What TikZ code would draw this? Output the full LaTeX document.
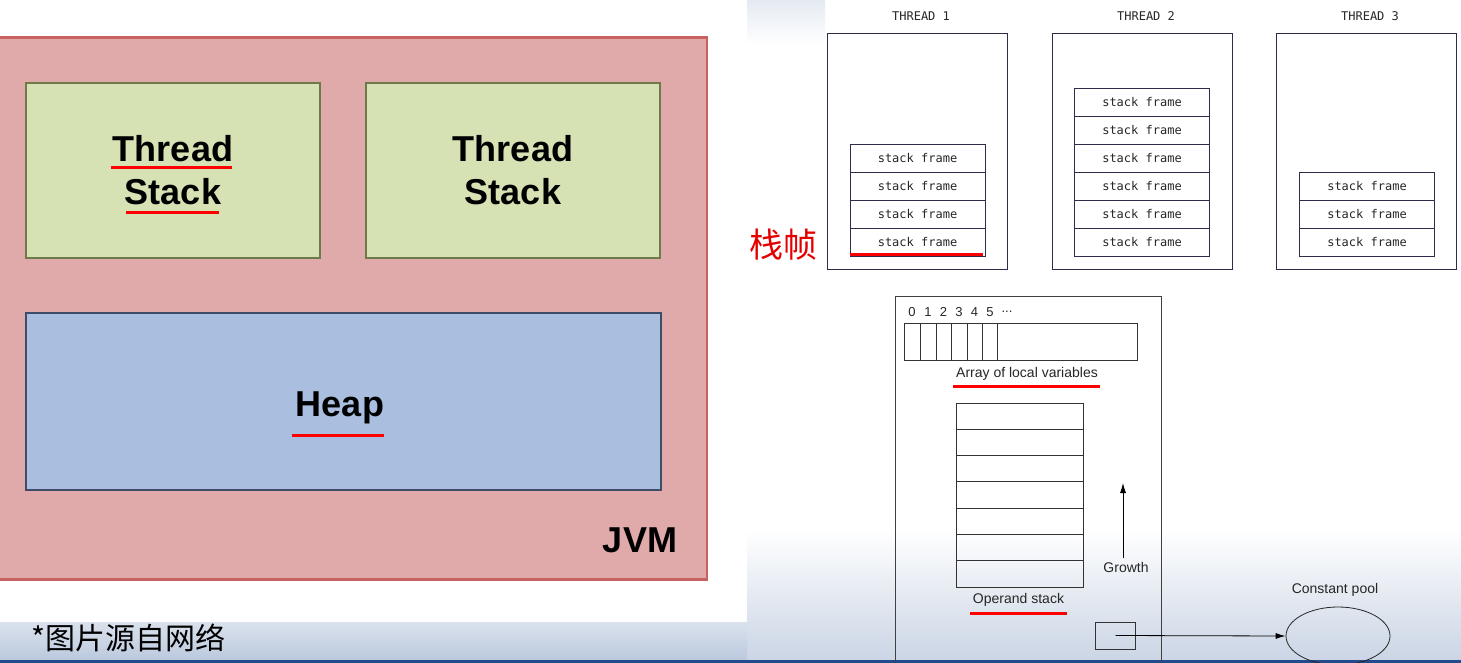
\documentclass[tikz,border=0pt]{standalone}
\usepackage{fontspec}
\setmainfont{Liberation Sans}
\setmonofont{DejaVu Sans Mono}
\newfontfamily\cjk{Noto Sans CJK SC}
\usetikzlibrary{positioning,shapes.geometric,arrows.meta}
\definecolor{jvmfill}{HTML}{E0AAAA}
\definecolor{jvmline}{HTML}{C86262}
\definecolor{tsfill}{HTML}{D6E1B4}
\definecolor{tsline}{HTML}{6F7A4A}
\definecolor{heapfill}{HTML}{AABFDF}
\definecolor{heapline}{HTML}{3E4C68}
\definecolor{frmline}{HTML}{2C2C4C}
\definecolor{band}{HTML}{B4C3DA}
\definecolor{edge}{HTML}{234A8C}
\begin{document}
\begin{tikzpicture}[x=1pt, y=-1pt,
  jvm/.style = {draw=jvmline, fill=jvmfill, line width=2.5pt, minimum width=708pt, minimum height=542pt},
  tstack/.style = {draw=tsline, fill=tsfill, line width=2.5pt, minimum width=294pt, minimum height=175pt, align=center, font=\bfseries\fontsize{36}{43}\selectfont},
  heapbox/.style = {draw=heapline, fill=heapfill, line width=2.5pt, minimum width=635pt, minimum height=177pt},
  big/.style = {font=\bfseries\fontsize{36}{43}\selectfont, anchor=base, inner sep=0pt},
  uline/.style = {red, line width=3pt},
  thrd/.style = {draw=frmline, line width=0.9pt, minimum width=180pt, minimum height=236pt},
  thrdlbl/.style = {font=\ttfamily\fontsize{12}{14}\selectfont, text=black!85},
  frm/.style = {draw=frmline, line width=0.8pt, minimum width=135pt, minimum height=28pt, inner sep=0pt, node distance=28pt, font=\ttfamily\fontsize{12}{14}\selectfont, text=black!85},
  opnd/.style = {draw=black!80, line width=0.8pt, minimum width=127pt, minimum height=26.3pt, inner sep=0pt, node distance=26.3pt},
  lbl/.style = {font=\fontsize{14}{16}\selectfont, text=black!85},
  num/.style = {font=\fontsize{13}{15}\selectfont, text=black!85},
  tip/.style = {-{Latex[length=10pt,width=6pt]}, line width=0.8pt}
]
\useasboundingbox (0,0) rectangle (1461,663);
\clip (0,0) rectangle (1461,663);
% background of the slide
\fill[white] (0,0) rectangle (1461,663);
\shade[top color=white, bottom color=band!70] (747,530) rectangle (1461,660);
\shade[top color=band!50, bottom color=band!90] (0,622) rectangle (747,660);
\shade[top color=band!35, bottom color=white] (747,0) rectangle (825,45);
\fill[edge] (0,660) rectangle (1461,663);

% JVM picture
\node[jvm] (jvm) at (353,308.5) {};
\node[tstack] (ts1) at (173,170.5) {Thread\\Stack};
\node[tstack] (ts2) at (513,170.5) {Thread\\Stack};
\node[heapbox] (heap) at (343.5,401.5) {};
\node[big] (heaplbl) at (340,416.5) {Heap};
\node[big] (jvmlbl) at (640,552) {JVM};
\draw[uline] (111,167.5) -- (232,167.5);
\draw[uline] (126,212.5) -- (219,212.5);
\draw[uline] (292,435.5) -- (384,435.5);
\node[font=\cjk\fontsize{30}{32}\selectfont, anchor=west, inner sep=0pt] (note) at (31,638) {*图片源自网络};

% threads
\node[thrdlbl] (l1) at (921,16) {THREAD 1};
\node[thrdlbl] (l2) at (1146,16) {THREAD 2};
\node[thrdlbl] (l3) at (1370,16) {THREAD 3};
\node[thrd] (t1) at (917,151) {};
\node[thrd] (t2) at (1142,151) {};
\node[thrd] (t3) at (1366,151) {};

\node[frm] (a1) at (917.5,242) {stack frame};
\node[frm] (a2) [above of=a1] {stack frame};
\node[frm] (a3) [above of=a2] {stack frame};
\node[frm] (a4) [above of=a3] {stack frame};

\node[frm] (b1) at (1142,242) {stack frame};
\node[frm] (b2) [above of=b1] {stack frame};
\node[frm] (b3) [above of=b2] {stack frame};
\node[frm] (b4) [above of=b3] {stack frame};
\node[frm] (b5) [above of=b4] {stack frame};
\node[frm] (b6) [above of=b5] {stack frame};

\node[frm] (c1) at (1367,242) {stack frame};
\node[frm] (c2) [above of=c1] {stack frame};
\node[frm] (c3) [above of=c2] {stack frame};

\draw[uline] ([yshift=2pt]a1.south west) -- ([yshift=2pt,xshift=-2pt]a1.south east);
\node[font=\cjk\fontsize{34}{36}\selectfont, text=red!90!black] (zhen) at (783,245) {栈帧};

% one stack frame
\node[draw=black!75, line width=0.9pt, minimum width=266pt, minimum height=380pt, inner sep=0pt] (sf) at (1028,486) {};
\node[num] (n0) at (912,312) {0};
\node[num] (n1) at (928,312) {1};
\node[num] (n2) at (943.5,312) {2};
\node[num] (n3) at (959,312) {3};
\node[num] (n4) at (974.5,312) {4};
\node[num] (n5) at (990,312) {5};
\node[num] (n6) at (1007,312) {...};
\node[draw=black!80, line width=0.8pt, minimum width=233pt, minimum height=37pt, inner sep=0pt] (vars) at (1020.5,341.5) {};
\draw[black!80, line width=0.8pt] (920,323) -- (920,360) (936,323) -- (936,360) (951.5,323) -- (951.5,360)
  (967,323) -- (967,360) (982,323) -- (982,360) (997,323) -- (997,360);
\node[lbl] (arr) at (1027,374) {Array of local variables};
\draw[uline] (953,386) -- (1100,386);

\node[opnd] (o1) at (1019.5,573.85) {};
\node[opnd] (o2) [above of=o1] {};
\node[opnd] (o3) [above of=o2] {};
\node[opnd] (o4) [above of=o3] {};
\node[opnd] (o5) [above of=o4] {};
\node[opnd] (o6) [above of=o5] {};
\node[opnd] (o7) [above of=o6] {};
\node[lbl] (ops) at (1018.5,600) {Operand stack};
\draw[uline] (970,613) -- (1067,613);

\node[lbl] (grow) at (1126,567) {Growth};
\coordinate (up) at (1123,483);
\draw[tip] (grow.north -| up) -- (up);

\node[draw=black!80, line width=0.8pt, minimum width=40pt, minimum height=27pt, inner sep=0pt] (ref) at (1115.5,635.5) {};
\node[draw=black!85, line width=0.8pt, ellipse, minimum width=104pt, minimum height=58pt, inner sep=0pt] (pool) at (1338,636) {};
\node[lbl] (cp) at (1335,590) {Constant pool};
\draw[tip] (ref.center) -- (pool.west);
\end{tikzpicture}
\end{document}
